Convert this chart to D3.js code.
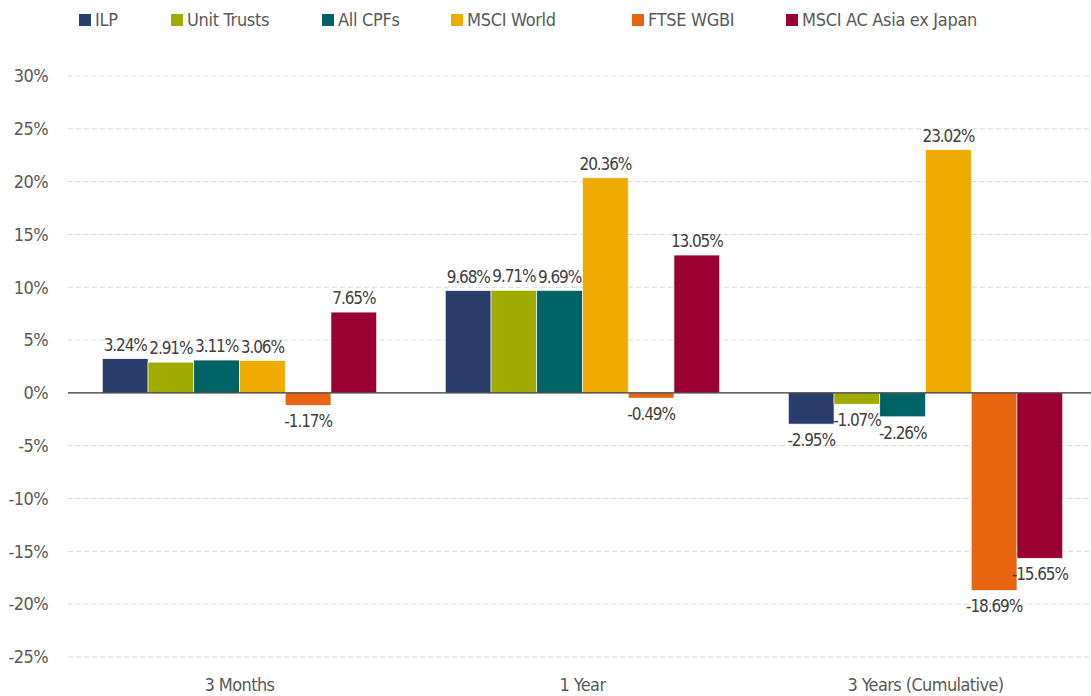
<!DOCTYPE html>
<html>
<head>
<meta charset="utf-8">
<script src="https://cdn.jsdelivr.net/npm/d3@7"></script>
<style>
  body { margin: 0; background: #fff; }
  svg text { font-family: "Liberation Sans Narrow", "DejaVu Sans Condensed", sans-serif; }
</style>
</head>
<body>
<div id="viz"></div>
<script>
// chart data
var categories = ["3 Months", "1 Year", "3 Years (Cumulative)"];
var seriesNames = ["ILP", "Unit Trusts", "All CPFs", "MSCI World", "FTSE WGBI", "MSCI AC Asia ex Japan"];
var seriesColors = ["#293d6b", "#a0ab00", "#006366", "#f0ab00", "#e86412", "#9b0033"];
var ilp = [3.24, 9.68, -2.95];
var unitTrusts = [2.91, 9.71, -1.07];
var allCpfs = [3.11, 9.69, -2.26];
var msciWorld = [3.06, 20.36, 23.02];
var ftseWgbi = [-1.17, -0.49, -18.69];
var msciAsia = [7.65, 13.05, -15.65];
var yTicks = [30, 25, 20, 15, 10, 5, 0, -5, -10, -15, -20, -25];

var values = [ilp, unitTrusts, allCpfs, msciWorld, ftseWgbi, msciAsia];
var width = 1091, height = 696;
var plotLeft = 68, plotRight = 1097, plotTop = 76, plotBottom = 657;

var svg = d3.select("#viz").append("svg")
  .attr("width", width)
  .attr("height", height);

var y = d3.scaleLinear().domain([-25, 30]).range([plotBottom, plotTop]);
var x0 = d3.scaleBand().domain(categories).range([plotLeft, plotRight])
  .paddingInner(0.2).paddingOuter(0.1);
var x1 = d3.scaleBand().domain(seriesNames).range([0, x0.bandwidth()]);

// gridlines
svg.append("g").selectAll("line")
  .data(yTicks.filter(function (d) { return d !== 0; }))
  .enter().append("line")
    .attr("x1", plotLeft).attr("x2", width)
    .attr("y1", function (d) { return y(d); })
    .attr("y2", function (d) { return y(d); })
    .attr("stroke", "#d9d9d9")
    .attr("stroke-dasharray", "5,3");

// y axis labels
var yAxis = d3.axisLeft(y).tickValues(yTicks).tickSize(0).tickPadding(0)
  .tickFormat(function (d) { return d + "%"; });
var yg = svg.append("g").attr("transform", "translate(48,0)").call(yAxis);
yg.select(".domain").remove();
yg.attr("font-family", null);
yg.selectAll("text").attr("font-size", 18).attr("fill", "#595959")
  .attr("letter-spacing", -0.6);

// bars
var rows = [];
categories.forEach(function (c, ci) {
  seriesNames.forEach(function (s, si) {
    rows.push({cat: c, series: s, color: seriesColors[si], value: values[si][ci]});
  });
});

var g = svg.append("g");
g.selectAll("rect").data(rows).enter().append("rect")
  .attr("x", function (d) { return x0(d.cat) + x1(d.series); })
  .attr("y", function (d) { return y(Math.max(0, d.value)); })
  .attr("width", x1.bandwidth())
  .attr("height", function (d) { return Math.abs(y(d.value) - y(0)); })
  .attr("fill", function (d) { return d.color; })
  .attr("stroke", "#fff")
  .attr("stroke-width", 0.6);

// zero line
svg.append("line")
  .attr("x1", plotLeft).attr("x2", width)
  .attr("y1", y(0)).attr("y2", y(0))
  .attr("stroke", "#333").attr("stroke-width", 1.2);

// value labels
g.selectAll("text.value").data(rows).enter().append("text")
  .attr("class", "value")
  .attr("x", function (d) { return x0(d.cat) + x1(d.series) + x1.bandwidth() / 2; })
  .attr("y", function (d) { return d.value >= 0 ? y(d.value) - 8 : y(d.value) + 22; })
  .attr("text-anchor", "middle")
  .attr("font-size", 17)
  .attr("letter-spacing", -1.1)
  .attr("fill", "#404040")
  .text(function (d) { return d.value.toFixed(2) + "%"; });

// category labels
svg.append("g").selectAll("text").data(categories).enter().append("text")
  .attr("x", function (d) { return x0(d) + x0.bandwidth() / 2; })
  .attr("y", 691)
  .attr("text-anchor", "middle")
  .attr("font-size", 18)
  .attr("letter-spacing", -0.6)
  .attr("fill", "#595959")
  .text(function (d) { return d; });

// legend
var legendX = [79, 171, 322, 451, 632, 786];
var lg = svg.append("g").selectAll("g").data(seriesNames).enter().append("g")
  .attr("transform", function (d, i) { return "translate(" + legendX[i] + ",14)"; });
lg.append("rect").attr("width", 12).attr("height", 12)
  .attr("fill", function (d, i) { return seriesColors[i]; });
lg.append("text").attr("x", 16).attr("y", 12)
  .attr("font-size", 18).attr("fill", "#595959")
  .attr("letter-spacing", -0.3)
  .text(function (d) { return d; });
</script>
</body>
</html>
